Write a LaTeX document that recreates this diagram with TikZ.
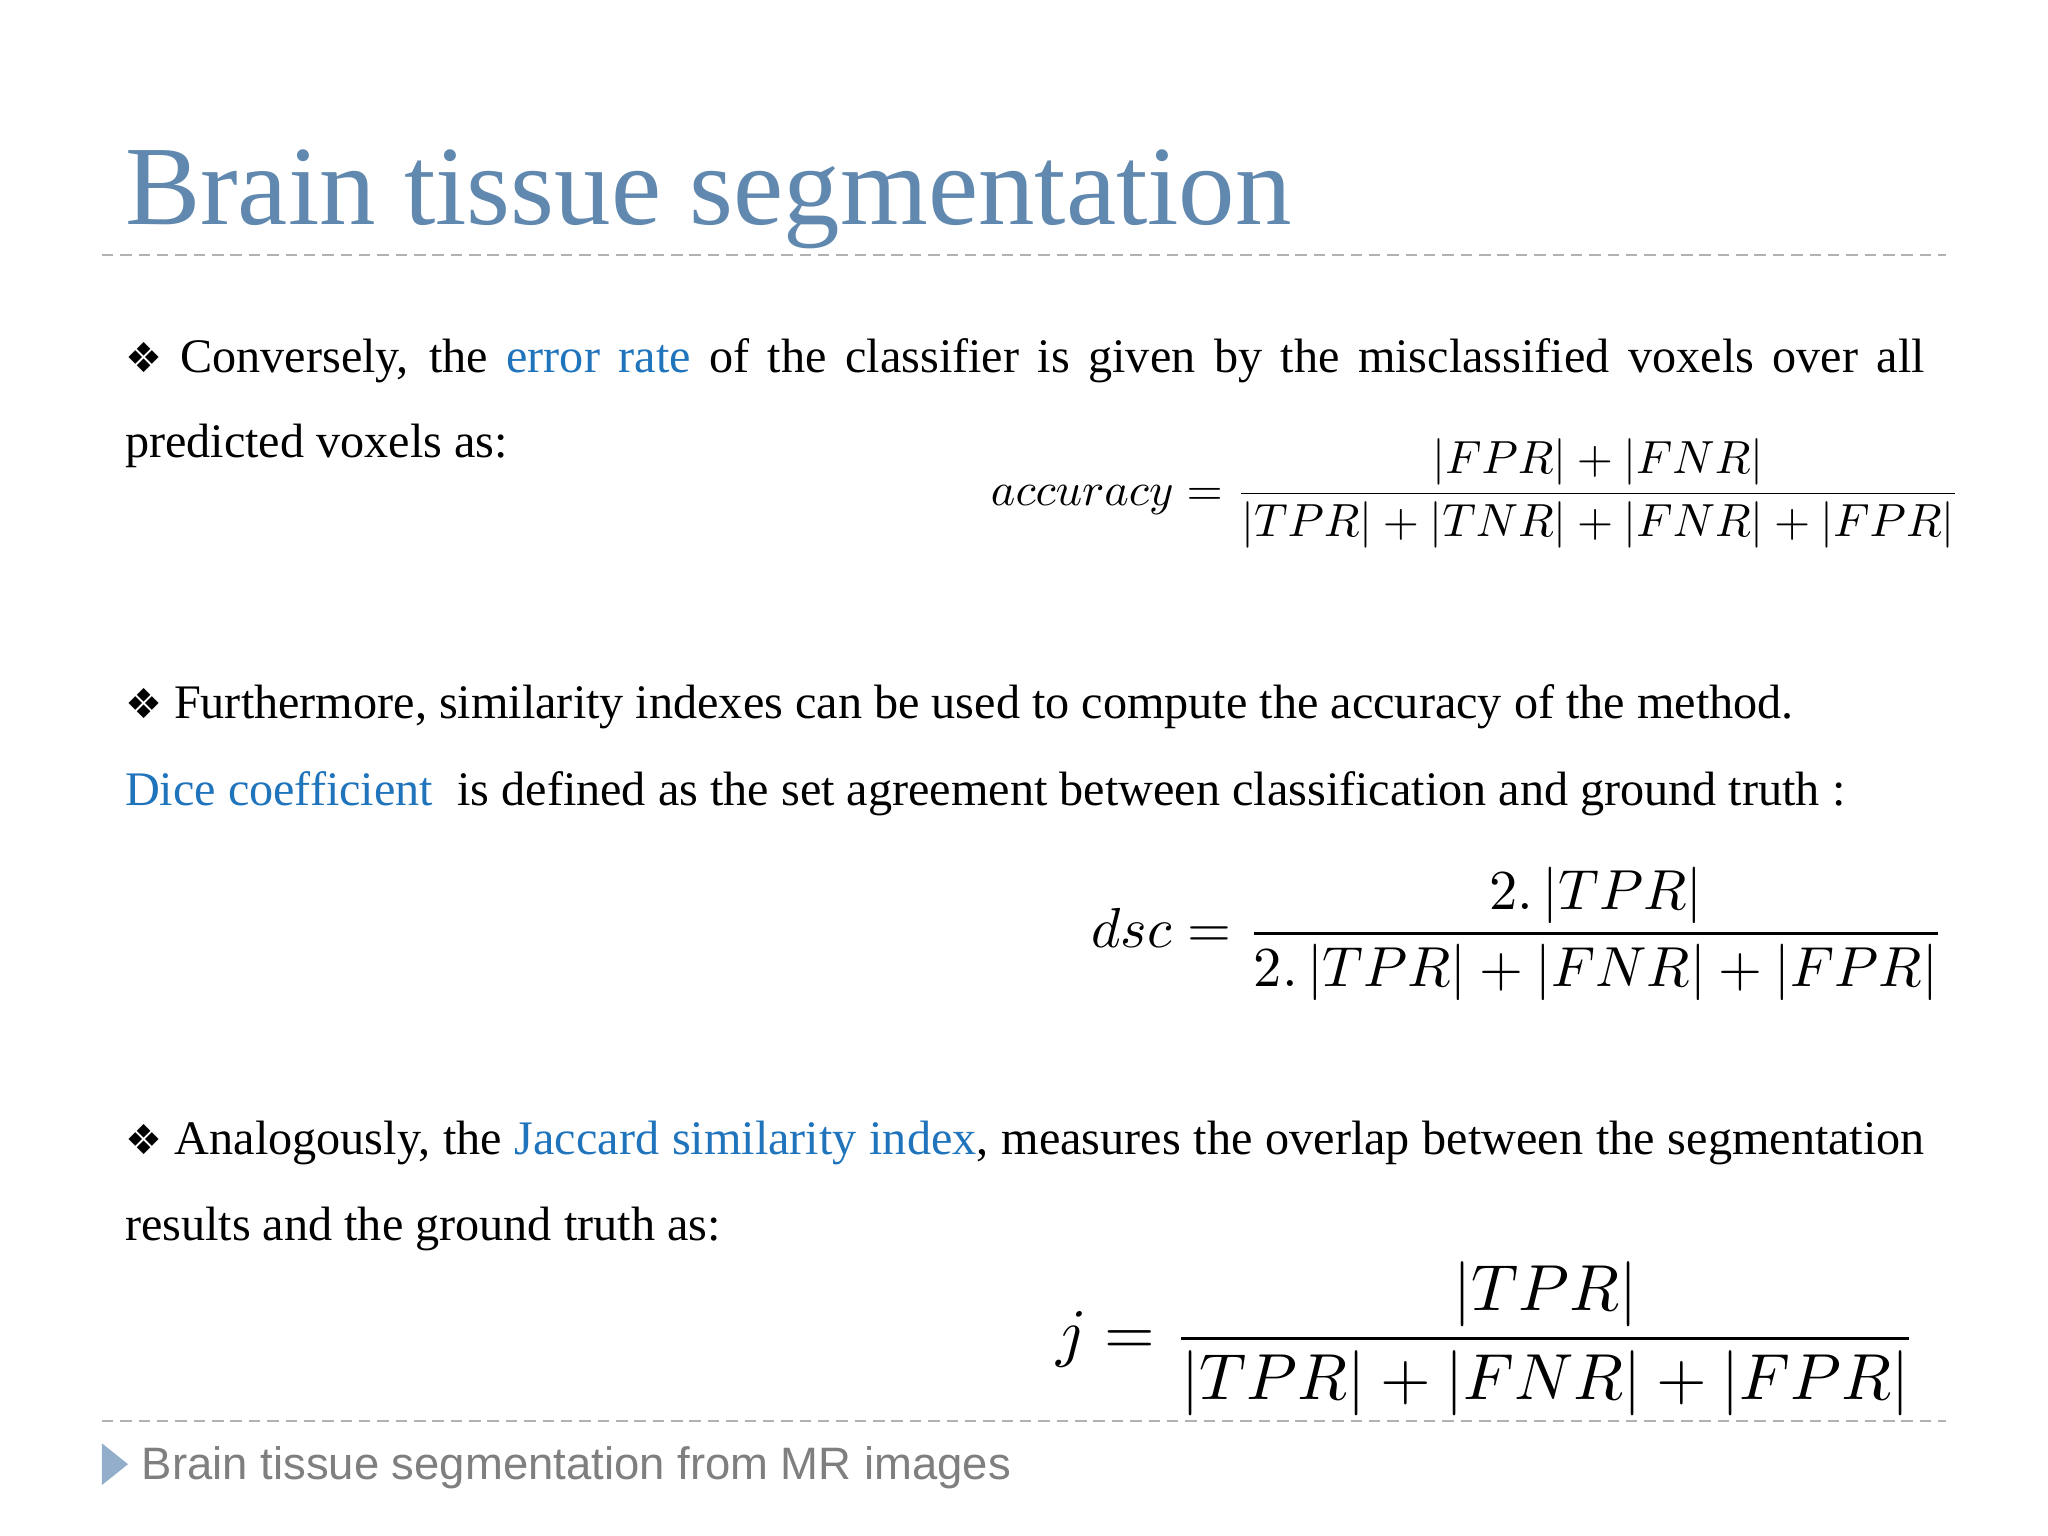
\documentclass[tikz,border=0pt]{standalone}
\usepackage[no-math]{fontspec}
\setmainfont{Liberation Serif}
\newfontfamily\symf{DejaVu Sans}
\newfontfamily\footf{Liberation Sans}
\usepackage{graphicx}
\definecolor{titleblue}{HTML}{6189AF}
\definecolor{linkblue}{HTML}{1F74BC}
\definecolor{footgray}{HTML}{7F7F7F}
\definecolor{trib}{HTML}{93AECB}
\tikzset{txt/.style={anchor=base west,inner sep=0pt,font=\fontsize{10.5pt}{12pt}\selectfont},
 frm/.style={anchor=west,inner sep=0pt},
 sep/.style={gray!60,line width=0.4pt,dash pattern=on 2.5pt off 1.5pt}}
\newcommand{\bul}{{\symf\small\char"2756}\ }
\begin{document}
\begin{tikzpicture}
\useasboundingbox[fill=white] (0,0) rectangle (15.68,-11.76);
\node[anchor=base west,inner sep=0pt,text=titleblue,font=\fontsize{24.6pt}{26pt}\selectfont] (title) at (0.95,-1.72) {Brain tissue segmentation};
\draw[sep] (0.78,-1.95) -- (14.9,-1.95);
\node[txt] (l1) at (0.95,-2.85) {\makebox[13.78cm][s]{\bul Conversely, the \textcolor{linkblue}{error rate} of the classifier is given by the misclassified voxels over all}};
\node[txt] (l2) at (0.95,-3.5) {predicted voxels as:};
\node[frm] (f1) at (7.58,-3.78) {\resizebox{7.42cm}{!}{$\displaystyle accuracy=\frac{|FPR|+|FNR|}{|TPR|+|TNR|+|FNR|+|FPR|}$}};
\node[txt] (l3) at (0.95,-5.5) {\bul Furthermore, similarity indexes can be used to compute the accuracy of the method.};
\node[txt] (l4) at (0.95,-6.17) {\textcolor{linkblue}{Dice coefficient}\ \ is defined as the set agreement between classification and ground truth :};
\node[frm] (f2) at (8.35,-7.15) {\resizebox{6.53cm}{!}{$\displaystyle dsc=\frac{2.\,|TPR|}{2.\,|TPR|+|FNR|+|FPR|}$}};
\node[txt] (l5) at (0.95,-8.84) {\makebox[13.78cm][s]{\bul Analogously, the \textcolor{linkblue}{Jaccard similarity index}, measures the overlap between the segmentation}};
\node[txt] (l6) at (0.95,-9.5) {results and the ground truth as:};
\node[frm] (f3) at (8.08,-10.25) {\resizebox{6.59cm}{!}{$\displaystyle j=\frac{|TPR|}{|TPR|+|FNR|+|FPR|}$}};
\draw[sep] (0.78,-10.88) -- (14.9,-10.88);
\fill[trib] (0.78,-11.05) -- (0.98,-11.21) -- (0.78,-11.37) -- cycle;
\node[anchor=base west,inner sep=0pt,text=footgray,font=\footf\fontsize{9.9pt}{11pt}\selectfont] (foot) at (1.08,-11.33) {Brain tissue segmentation from MR images};
\end{tikzpicture}
\end{document}
